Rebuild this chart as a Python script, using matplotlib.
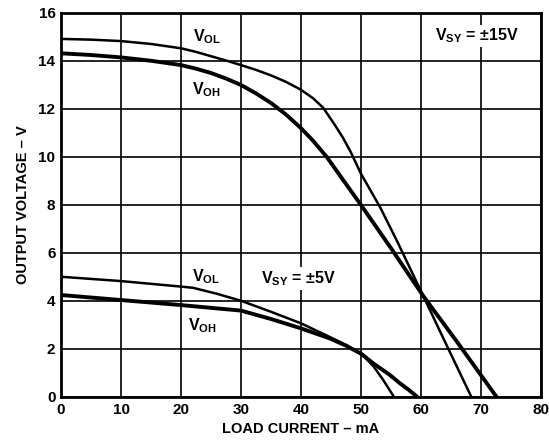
import matplotlib
matplotlib.use("Agg")
import matplotlib.pyplot as plt

plt.rcParams['font.family'] = ['Liberation Sans', 'DejaVu Sans']
plt.rcParams['font.weight'] = 'bold'
plt.rcParams['mathtext.fontset'] = 'custom'
plt.rcParams['mathtext.rm'] = 'Liberation Sans:bold'
plt.rcParams['mathtext.bf'] = 'Liberation Sans:bold'
plt.rcParams['mathtext.it'] = 'Liberation Sans:bold'

# +/-15 V supply
vol15_x = [0, 5, 10, 15, 20, 22.5, 25, 27.5, 30, 32.5, 35, 37.5, 40, 42, 43.7, 45.6, 47, 48.3, 50, 53.2, 56, 60.4, 64, 68.4]
vol15_y = [14.92, 14.89, 14.83, 14.71, 14.53, 14.38, 14.2, 14.02, 13.83, 13.63, 13.4, 13.13, 12.8, 12.45, 12.05, 11.35, 10.8, 10.2, 9.3, 7.9, 6.5, 4.2, 2.3, 0]
voh15_x = [0, 5, 10, 15, 20, 22.5, 25, 27.5, 30, 32.5, 35, 37.5, 40, 42, 44.3, 47, 50, 55, 60.4, 66, 72.6]
voh15_y = [14.32, 14.25, 14.15, 14.01, 13.83, 13.68, 13.5, 13.27, 13.0, 12.65, 12.25, 11.77, 11.2, 10.68, 10.0, 9.05, 8.0, 6.2, 4.2, 2.3, 0]
# +/-5 V supply
vol5_x = [0, 10, 20, 22, 26, 30, 35, 40, 44.8, 47.5, 50.1, 52.05, 53.7, 55.5]
vol5_y = [5.01, 4.83, 4.6, 4.55, 4.3, 4.01, 3.55, 3.07, 2.5, 2.17, 1.79, 1.29, 0.71, 0]
voh5_x = [0, 10, 20, 30, 35, 40, 44.8, 47.5, 50.1, 52.05, 54.8, 56.5, 58.0, 59.4]
voh5_y = [4.25, 4.04, 3.83, 3.6, 3.25, 2.86, 2.44, 2.14, 1.79, 1.4, 0.92, 0.57, 0.29, 0]

xticks = [0, 10, 20, 30, 40, 50, 60, 70, 80]
yticks = [0, 2, 4, 6, 8, 10, 12, 14, 16]

fig = plt.figure(figsize=(5.49, 4.47), dpi=100)
ax = fig.add_axes([61/549, 1-397/447, 480/549, 384/447])

ax.plot(vol15_x, vol15_y, color='black', lw=1.8, solid_joinstyle='round')
ax.plot(voh15_x, voh15_y, color='black', lw=2.8, solid_joinstyle='round')
ax.plot(vol5_x, vol5_y, color='black', lw=1.8, solid_joinstyle='round')
ax.plot(voh5_x, voh5_y, color='black', lw=2.8, solid_joinstyle='round')

ax.set_xlim(0, 80)
ax.set_ylim(0, 16)
ax.set_xticks(xticks)
ax.set_yticks(yticks)
ax.set_xticklabels([str(t) for t in xticks], fontsize=11, fontweight='bold')
ax.set_yticklabels([str(t) for t in yticks], fontsize=11, fontweight='bold')
ax.tick_params(length=0, pad=4)
ax.grid(True, color='black', lw=1.2)
ax.set_axisbelow(True)
for s in ax.spines.values():
    s.set_linewidth(2)

ax.set_xlabel('LOAD CURRENT – mA', fontsize=10.5, fontweight='bold', labelpad=4)
ax.set_ylabel('OUTPUT VOLTAGE – V', fontsize=10.5, fontweight='bold', labelpad=6)

fs = 11.5
ax.text(22, 14.8, r'V$_{\mathrm{OL}}$', fontsize=fs, ha='left', va='baseline')
ax.text(21.8, 12.63, r'V$_{\mathrm{OH}}$', fontsize=fs, ha='left', va='baseline')
ax.text(62.3, 14.85, r'V$_{\mathrm{SY}}$ = ±15V', fontsize=fs, ha='left', va='baseline',
        bbox=dict(facecolor='white', edgecolor='none', pad=1.5))
ax.text(21.8, 4.8, r'V$_{\mathrm{OL}}$', fontsize=fs, ha='left', va='baseline')
ax.text(21.2, 2.79, r'V$_{\mathrm{OH}}$', fontsize=fs, ha='left', va='baseline')
ax.text(33.4, 4.74, r'V$_{\mathrm{SY}}$ = ±5V', fontsize=fs, ha='left', va='baseline',
        bbox=dict(facecolor='white', edgecolor='none', pad=1.5))

fig.savefig('out.png', dpi=100)
